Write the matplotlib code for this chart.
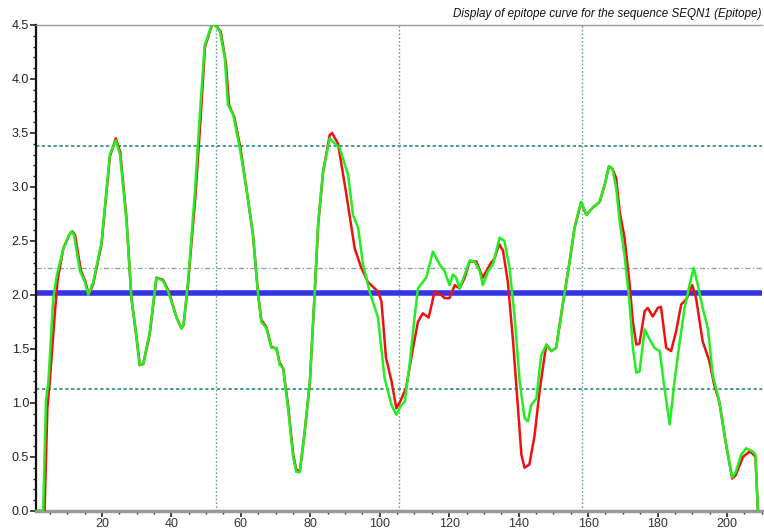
import matplotlib
matplotlib.use('Agg')
import matplotlib.pyplot as plt
from matplotlib.ticker import MultipleLocator, FormatStrFormatter

plt.rcParams['font.family'] = ['Liberation Sans', 'DejaVu Sans']

title = 'Display of epitope curve for the sequence SEQN1 (Epitope)'

# green curve (residue position, score)
green_x = [1, 3.1, 3.9, 4.6, 6.0, 7.0, 8.9, 10.5, 11.3, 12.0, 13.0, 13.7, 15.1, 16.1, 17.5,
           19.9, 22.3, 24.0, 25.2, 27.1, 28.5, 30.0, 30.9, 31.9, 33.8, 35.7, 37.6, 39.1,
           41.5, 42.9, 43.5, 44.8, 46.8, 48.2, 49.6, 51.6, 52.5, 54.0, 55.4, 56.3, 57.8,
           59.7, 61.6, 63.5, 65.0, 65.9, 67.4, 68.8, 70.3, 71.2, 72.2, 73.6, 75.1, 76.0,
           77.0, 78.4, 79.9, 81.3, 82.3, 83.7, 85.6, 86.5, 88.5, 90.9, 92.3, 93.8, 95.2,
           97.1, 99.5, 101.4, 103.4, 104.8, 106.2, 107.2, 108.6, 110.1, 111.0, 112.4,
           113.4, 115.3, 117.3, 118.7, 120.1, 121.1, 122.0, 123.0, 124.5, 125.9, 127.3,
           128.8, 129.7, 131.2, 132.6, 134.5, 135.9, 137.4, 138.8, 140.3, 141.7, 142.7,
           143.6, 145.1, 146.5, 148.0, 149.4, 150.8, 152.7, 154.7, 156.1, 158.0, 159.5,
           161.4, 163.3, 164.8, 166.0, 167.0, 168.1, 169.1, 170.5, 171.9, 172.9, 173.9,
           174.8, 176.3, 177.7, 179.1, 180.6, 182.0, 183.5, 184.9, 186.4, 187.8, 189.2,
           190.4, 191.4, 193.0, 194.5, 195.9, 197.8, 199.6, 201.5, 202.5, 204.1, 205.5,
           207.4, 208.2, 208.9]
green_y = [0.0, 0.0, 1.02, 1.20, 1.97, 2.18, 2.43, 2.55, 2.59, 2.55, 2.35, 2.22, 2.12, 2.0, 2.12,
           2.49, 3.30, 3.43, 3.30, 2.68, 1.97, 1.60, 1.35, 1.36, 1.66, 2.16, 2.13, 2.03,
           1.79, 1.69, 1.72, 2.12, 2.96, 3.67, 4.31, 4.50, 4.50, 4.44, 4.19, 3.76, 3.67,
           3.36, 2.99, 2.56, 2.0, 1.75, 1.69, 1.51, 1.51, 1.35, 1.32, 0.95, 0.49, 0.36,
           0.36, 0.73, 1.20, 2.03, 2.68, 3.14, 3.45, 3.42, 3.36, 3.11, 2.74, 2.62, 2.28,
           2.03, 1.79, 1.23, 0.98, 0.89, 0.98, 1.01, 1.35, 1.81, 2.06, 2.12,
           2.16, 2.40, 2.28, 2.22, 2.09, 2.19, 2.16, 2.06, 2.19, 2.32, 2.31,
           2.22, 2.09, 2.22, 2.28, 2.53, 2.50, 2.25, 1.81, 1.20, 0.86, 0.83,
           0.98, 1.04, 1.44, 1.54, 1.48, 1.51, 1.91, 2.31, 2.62, 2.86, 2.74,
           2.81, 2.86, 3.02, 3.19, 3.17, 2.99, 2.68, 2.37, 1.94, 1.51, 1.28,
           1.29, 1.68, 1.59, 1.51, 1.48, 1.14, 0.80, 1.20, 1.57, 1.88, 2.09,
           2.25, 2.12, 1.88, 1.69, 1.26, 1.01, 0.64, 0.31, 0.36, 0.52, 0.58,
           0.55, 0.52, 0.0]

# red curve
red_x = [1, 3.5, 4.3, 5.0, 6.5, 7.3, 8.9, 10.5, 11.5, 12.3, 13.3, 14.0, 15.3, 16.2, 17.5,
         19.9, 22.3, 24.0, 25.3, 27.1, 28.5, 30.0, 30.9, 31.9, 33.8, 35.7, 37.6, 39.3,
         41.5, 42.9, 43.5, 44.8, 46.9, 48.4, 49.7, 51.7, 52.7, 54.2, 55.7, 56.6, 58.1,
         59.9, 61.6, 63.5, 65.0, 65.9, 67.4, 68.8, 70.3, 71.2, 72.2, 73.6, 75.1, 76.0,
         77.0, 78.4, 79.9, 81.3, 82.3, 83.7, 85.6, 86.3, 88.0, 90.4, 92.8, 94.7, 96.6,
         99.5, 100.5, 101.8, 103.4, 104.8, 106.0, 107.6, 109.6, 111.0, 112.4, 114.1,
         115.8, 117.7, 118.7, 120.1, 121.6, 123.0, 124.5, 125.9, 127.8, 129.7, 131.7,
         133.1, 134.4, 135.5, 136.9, 138.4, 139.8, 140.8, 141.7, 143.1, 144.6, 146.0,
         147.5, 148.0, 149.4, 150.8, 152.7, 154.7, 156.1, 158.0, 159.5, 161.4, 163.3,
         164.8, 166.0, 167.0, 168.1, 169.1, 170.5, 171.9, 172.9, 173.9, 174.8, 176.3,
         177.2, 178.6, 180.1, 181.0, 182.5, 183.9, 185.4, 186.8, 188.3, 190.0, 191.1,
         193.0, 194.9, 196.3, 197.8, 199.6, 201.5, 202.5, 204.6, 206.5, 207.4, 208.2,
         208.9]
red_y = [0.0, 0.0, 0.95, 1.20, 1.85, 2.15, 2.43, 2.55, 2.59, 2.55, 2.35, 2.22, 2.12, 2.0, 2.10,
         2.47, 3.28, 3.45, 3.32, 2.70, 1.97, 1.60, 1.35, 1.36, 1.64, 2.16, 2.14, 2.03,
         1.79, 1.69, 1.72, 2.10, 2.90, 3.62, 4.30, 4.50, 4.50, 4.44, 4.15, 3.76, 3.65,
         3.36, 2.99, 2.56, 2.0, 1.77, 1.70, 1.52, 1.50, 1.37, 1.32, 0.98, 0.52, 0.38,
         0.37, 0.73, 1.20, 2.03, 2.66, 3.14, 3.48, 3.50, 3.40, 2.93, 2.43, 2.25, 2.12,
         2.03, 1.94, 1.42, 1.20, 0.95, 1.02, 1.14, 1.51, 1.75, 1.83, 1.79,
         2.03, 2.00, 1.97, 1.97, 2.09, 2.06, 2.16, 2.31, 2.31, 2.16, 2.28,
         2.34, 2.47, 2.41, 2.12, 1.57, 0.95, 0.52, 0.40, 0.43, 0.70, 1.10,
         1.44, 1.54, 1.48, 1.51, 1.91, 2.31, 2.62, 2.86, 2.74, 2.81, 2.86,
         3.02, 3.19, 3.17, 3.08, 2.77, 2.53, 2.12, 1.75, 1.54, 1.55, 1.85,
         1.88, 1.80, 1.88, 1.89, 1.51, 1.48, 1.67, 1.91, 1.96, 2.09, 1.97,
         1.57, 1.39, 1.17, 1.01, 0.64, 0.30, 0.33, 0.50, 0.55, 0.53, 0.50,
         0.0]

threshold = 2.02
h_lines = [1.125, 3.375]
mid_line = 2.25
v_lines = [52.75, 105.5, 158.25]

fig = plt.figure(figsize=(7.64, 5.30), dpi=100)
ax = fig.add_axes([0.047, 0.036, 0.950, 0.917])

for h in h_lines:
    ax.axhline(h, color='#2e8a80', lw=1.2, ls=(0, (2, 1.5)), zorder=1)
ax.axhline(mid_line, color='#7fa3a3', lw=0.9, ls=(0, (4, 2, 1, 2)), zorder=1)
for v in v_lines:
    ax.axvline(v, color='#6f9c9c', lw=1.0, ls=(0, (1.2, 1.5)), zorder=1)

ax.axhline(threshold, color='#3434e6', lw=4.0, zorder=2)
ax.plot(red_x, red_y, color='#ee1111', lw=1.8, zorder=3)
ax.plot(green_x, green_y, color='#22ee22', lw=1.8, zorder=4)

ax.set_xlim(1, 210)
ax.set_ylim(0, 4.5)
ax.xaxis.set_major_locator(MultipleLocator(20))
ax.xaxis.set_minor_locator(MultipleLocator(5))
ax.yaxis.set_major_locator(MultipleLocator(0.5))
ax.yaxis.set_minor_locator(MultipleLocator(0.1))
ax.yaxis.set_major_formatter(FormatStrFormatter('%.1f'))
ax.set_xticks([t for t in range(20, 201, 20)])

ax.tick_params(axis='both', which='major', length=4, width=1.2, labelsize=9,
               colors='#222222', pad=1)
ax.tick_params(axis='x', which='major', labelcolor='#333333')
ax.tick_params(axis='both', which='minor', length=2.5, width=1.0, colors='#222222')

ax.spines['left'].set_color('#111111')
ax.spines['left'].set_linewidth(1.6)
ax.spines['bottom'].set_color('#999999')
ax.spines['bottom'].set_linewidth(2.5)
ax.spines['top'].set_color('#999999')
ax.spines['top'].set_linewidth(1.0)
ax.spines['right'].set_visible(False)

fig.text(0.997, 0.962, title, ha='right', va='bottom', fontsize=8.4, style='italic',
         color='#111111')

plt.savefig('out.png', dpi=100)
